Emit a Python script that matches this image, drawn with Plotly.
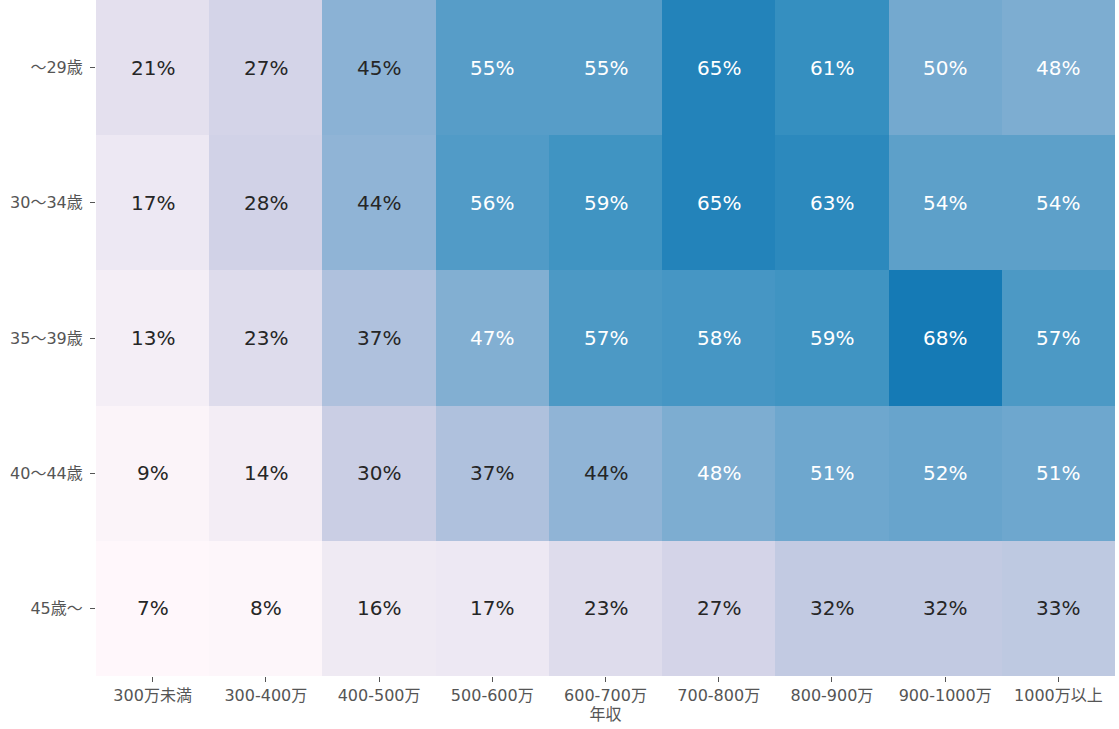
import plotly.graph_objects as go

incomes = ["300万未満", "300-400万", "400-500万", "500-600万", "600-700万",
           "700-800万", "800-900万", "900-1000万", "1000万以上"]
ages = ["～29歳", "30～34歳", "35～39歳", "40～44歳", "45歳～"]
values = [
    [21, 27, 45, 55, 55, 65, 61, 50, 48],
    [17, 28, 44, 56, 59, 65, 63, 54, 54],
    [13, 23, 37, 47, 57, 58, 59, 68, 57],
    [9, 14, 30, 37, 44, 48, 51, 52, 51],
    [7, 8, 16, 17, 23, 27, 32, 32, 33],
]

pubu = [
    [0.0, "#fff7fb"], [0.125, "#ece7f2"], [0.25, "#d0d1e6"], [0.375, "#a6bddb"],
    [0.5, "#74a9cf"], [0.625, "#3690c0"], [0.75, "#0570b0"], [0.875, "#045a8d"],
    [1.0, "#023858"],
]

font_family = "DejaVu Sans, Noto Sans CJK JP, sans-serif"

fig = go.Figure(go.Heatmap(
    z=values, x=incomes, y=ages, colorscale=pubu, zmin=7, zmax=93,
    showscale=False, xgap=0, ygap=0, hoverinfo="skip",
))

annotations = []
for i, age in enumerate(ages):
    for j, inc in enumerate(incomes):
        v = values[i][j]
        annotations.append(dict(
            x=inc, y=age, text=f"{v}%", showarrow=False,
            font=dict(family=font_family, size=20,
                      color="#ffffff" if v >= 46 else "#262626"),
        ))

fig.update_layout(
    width=1119, height=729,
    margin=dict(l=96, r=4, t=0, b=53),
    paper_bgcolor="white", plot_bgcolor="white",
    annotations=annotations,
    font=dict(family=font_family, color="#555555"),
    xaxis=dict(title=dict(text="年収", font=dict(size=16, color="#555555"), standoff=3),
               tickfont=dict(size=16, color="#555555"), ticks="outside",
               ticklen=5, tickcolor="#555555", showgrid=False, zeroline=False),
    yaxis=dict(autorange="reversed", tickfont=dict(size=16, color="#555555"),
               ticks="outside", ticklen=5, tickcolor="#555555", ticklabelstandoff=4,
               showgrid=False, zeroline=False),
)

fig.write_html("out.html", config={"displayModeBar": False},
               post_script="document.body.style.margin='0';")
